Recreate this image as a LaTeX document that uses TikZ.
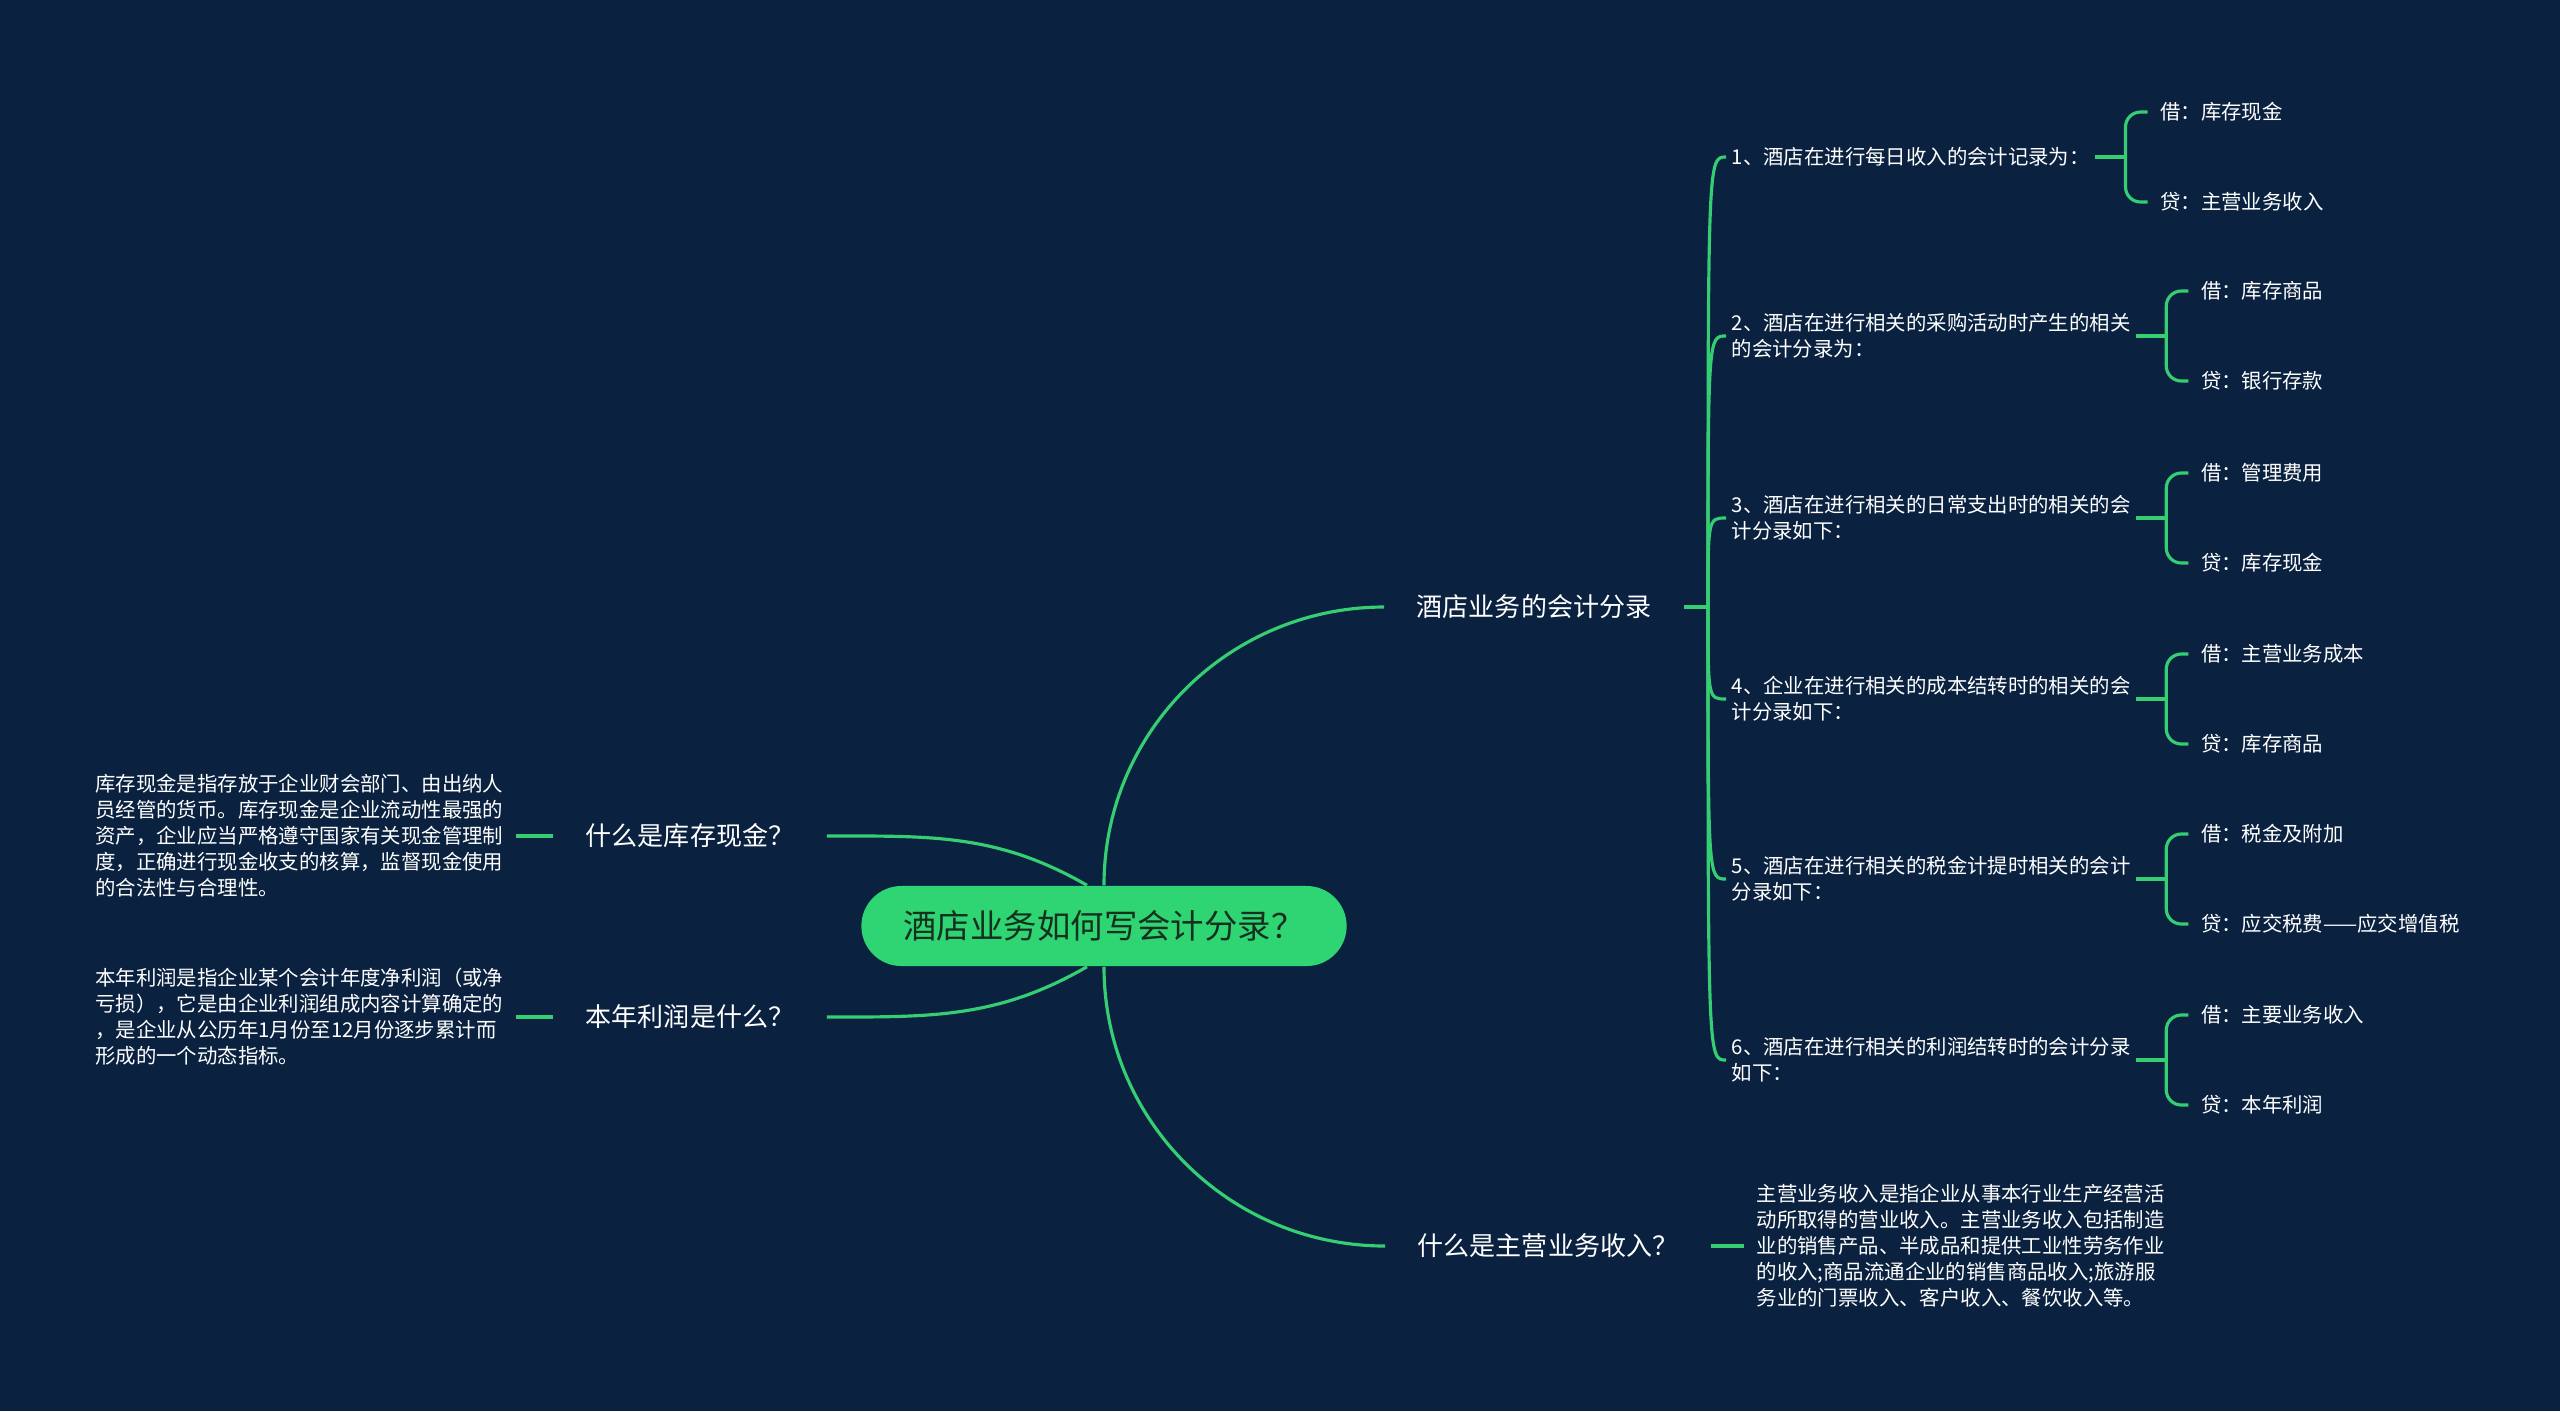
\documentclass[tikz,border=0pt]{standalone}
\usepackage{fontspec}
\setmainfont{Noto Sans CJK SC}
\usetikzlibrary{positioning}

\definecolor{bgnavy}{HTML}{0A2240}
\definecolor{linegreen}{HTML}{36CE72}
\definecolor{rootgreen}{HTML}{2FD473}
\definecolor{roottext}{HTML}{16301F}

\tikzset{
  rootnode/.style={fill=rootgreen, text=roottext, rounded corners=0.4cm,
    minimum width=4.85cm, minimum height=0.8cm,
    font=\fontsize{9.5pt}{11pt}\selectfont},
  topicnode/.style={text=white, inner xsep=0.32cm, inner ysep=0.05cm,
    font=\fontsize{7.4pt}{9pt}\selectfont},
  subnode/.style={text=white, align=left, inner xsep=0.05cm, inner ysep=0.02cm,
    font=\fontsize{5.8pt}{7.4pt}\selectfont},
  leafnode/.style={subnode, inner xsep=0.12cm},
  branch/.style={draw=linegreen, line width=0.9pt},
}

\begin{document}
\begin{tikzpicture}[x=0.01cm, y=-0.01cm]

    % --- Background (fixes the page size) ---
    \fill[bgnavy] (0,0) rectangle (2560,1411);
    \useasboundingbox (0,0) rectangle (2560,1411);

    % --- Root ---
    \node[rootnode] (root) at (1104,926) {酒店业务如何写会计分录？};

    % --- Main topics ---
    \node[topicnode] (acct) at (1534,607) {酒店业务的会计分录};
    \node[topicnode] (mainrev) at (1548,1246) {什么是主营业务收入？};
    \node[topicnode] (cash) at (690,836) {什么是库存现金？};
    \node[topicnode] (profit) at (690,1017) {本年利润是什么？};

    % root to topics
    \draw[branch] (root.north) to[out=90, in=180] (acct.west);
    \draw[branch] (root.south) to[out=-90, in=180] (mainrev.west);
    \draw[branch] (cash.east) to[out=0, in=150] ([xshift=-0.17cm]root.north);
    \draw[branch] (profit.east) to[out=0, in=-150] ([xshift=-0.17cm]root.south);

    % --- Left side texts ---
    \node[leafnode, anchor=east] (cashleaf) at (516,836)
      {库存现金是指存放于企业财会部门、由出纳人\\
       员经管的货币。库存现金是企业流动性最强的\\
       资产，企业应当严格遵守国家有关现金管理制\\
       度，正确进行现金收支的核算，监督现金使用\\
       的合法性与合理性。};
    \node[leafnode, anchor=east] (profitleaf) at (516,1017)
      {本年利润是指企业某个会计年度净利润（或净\\
       亏损），它是由企业利润组成内容计算确定的\\
       ，是企业从公历年1月份至12月份逐步累计而\\
       形成的一个动态指标。};
    \draw[branch] (cash.west) -- (cashleaf.east);
    \draw[branch] (profit.west) -- (profitleaf.east);

    % --- Main revenue text ---
    \node[leafnode, anchor=west] (revleaf) at (1744,1246)
      {主营业务收入是指企业从事本行业生产经营活\\
       动所取得的营业收入。主营业务收入包括制造\\
       业的销售产品、半成品和提供工业性劳务作业\\
       的收入;商品流通企业的销售商品收入;旅游服\\
       务业的门票收入、客户收入、餐饮收入等。};
    \draw[branch] (mainrev.east) -- (revleaf.west);

    % --- Accounting entries ---
    \coordinate (acctj) at (1708,607);
    \draw[branch] (acct.east) -- (acctj);

    \node[subnode, anchor=west] (rec1) at (1726,157) {1、酒店在进行每日收入的会计记录为：};
    \node[subnode, anchor=west] (rec2) at (1726,336) {2、酒店在进行相关的采购活动时产生的相关\\的会计分录为：};
    \node[subnode, anchor=west] (rec3) at (1726,518) {3、酒店在进行相关的日常支出时的相关的会\\计分录如下：};
    \node[subnode, anchor=west] (rec4) at (1726,699) {4、企业在进行相关的成本结转时的相关的会\\计分录如下：};
    \node[subnode, anchor=west] (rec5) at (1726,879) {5、酒店在进行相关的税金计提时相关的会计\\分录如下：};
    \node[subnode, anchor=west] (rec6) at (1726,1060) {6、酒店在进行相关的利润结转时的会计分录\\如下：};

    % debit / credit of each entry
    \foreach \i/\dr/\cr in {1/库存现金/主营业务收入,
                            2/库存商品/银行存款,
                            3/管理费用/库存现金,
                            4/主营业务成本/库存商品,
                            5/税金及附加/应交税费——应交增值税,
                            6/主要业务收入/本年利润}{
      \draw[branch] (acctj) .. controls (acctj |- rec\i.west) .. (rec\i.west);
      \coordinate (recj\i) at ([xshift=0.3cm]rec\i.east);
      \draw[branch] (rec\i.east) -- (recj\i);
      \node[leafnode, anchor=west] (dr\i) at ([shift={(22,-45)}]recj\i) {借：\dr};
      \node[leafnode, anchor=west] (cr\i) at ([shift={(22,45)}]recj\i) {贷：\cr};
      \draw[branch, rounded corners=0.15cm] (recj\i) |- (dr\i.west);
      \draw[branch, rounded corners=0.15cm] (recj\i) |- (cr\i.west);
    }

\end{tikzpicture}
\end{document}
